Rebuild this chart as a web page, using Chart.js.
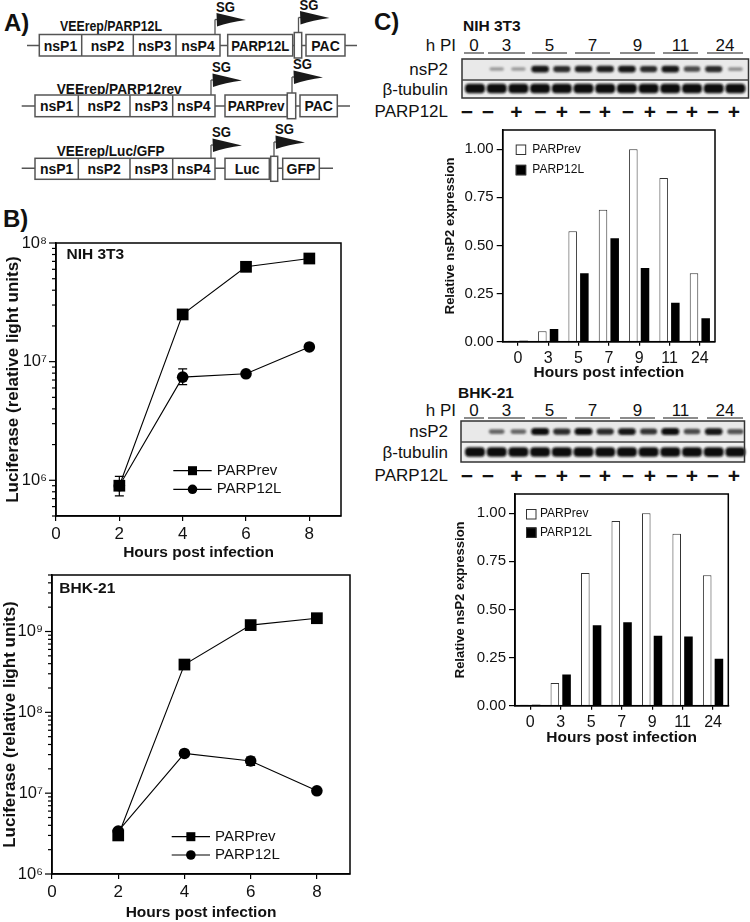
<!DOCTYPE html>
<html><head><meta charset="utf-8">
<script src="https://cdn.jsdelivr.net/npm/chart.js@4.4.1/dist/chart.umd.min.js"></script>
<style>
html,body{margin:0;padding:0;background:#fff;}
#root{position:relative;width:750px;height:922px;overflow:hidden;}
canvas{position:absolute;}
svg{position:absolute;left:0;top:0;}
</style></head>
<body><div id="root">
<svg id="art" width="750" height="922"></svg>
<canvas id="cB1" width="370" height="366" style="left:0;top:200px"></canvas>
<canvas id="cB2" width="370" height="362" style="left:0;top:560px"></canvas>
<canvas id="cC1" width="380" height="264" style="left:370px;top:118px"></canvas>
<canvas id="cC2" width="380" height="265" style="left:370px;top:482px"></canvas>
</div>
<script>
// ---------------- DATA ----------------
const hours = [2, 4, 6, 8];
const xTickValues = [0, 2, 4, 6, 8];
const nihPARPrev = [9.0e5, 2.5e7, 6.3e7, 7.4e7];
const nihPARP12L = [9.0e5, 7.4e6, 7.9e6, 1.33e7];
const nihPARPrevErrHi = [1.08e6, null, null, null];
const nihPARPrevErrLo = [7.4e5, null, null, null];
const nihPARP12LErrHi = [null, 8.7e6, null, null];
const nihPARP12LErrLo = [null, 6.4e6, null, null];
const bhkPARPrev = [3.0e6, 3.9e8, 1.2e9, 1.46e9];
const bhkPARP12L = [3.4e6, 3.1e7, 2.5e7, 1.07e7];
const bhkPARPrevErrHi = [null, null, null, null];
const bhkPARPrevErrLo = [null, null, null, null];
const bhkPARP12LErrHi = [null, null, 2.8e7, null];
const bhkPARP12LErrLo = [null, null, 2.2e7, null];

const hpiLabels = ['0', '3', '5', '7', '9', '11', '24'];
const barTickValues = [0, 0.25, 0.5, 0.75, 1.0];
const nihBarPARPrev = [0.005, 0.054, 0.574, 0.686, 1.00, 0.85, 0.356];
const nihBarPARP12L = [0.005, 0.066, 0.356, 0.537, 0.383, 0.203, 0.122];
const bhkBarPARPrev = [0.005, 0.118, 0.69, 0.96, 1.00, 0.894, 0.678];
const bhkBarPARP12L = [0.005, 0.162, 0.418, 0.434, 0.364, 0.359, 0.244];

const laneSigns = ['−', '−', '+', '−', '+', '−', '+', '−', '+', '−', '+', '−', '+'];
const nihNsp2Band = [0, 0.3, 0.3, 0.95, 0.85, 0.9, 0.9, 0.95, 0.85, 0.95, 0.7, 0.85, 0.35];
const bhkNsp2Band = [0, 0.55, 0.55, 1.0, 0.85, 1.0, 0.85, 0.95, 0.8, 1.0, 0.7, 0.95, 0.65];
const tubulinBand = [1, 1, 1, 1, 1, 1, 1, 1, 1, 1, 1, 1, 1];

// ---------------- ARTWORK (panel A, blots, labels) ----------------
const FONT = "'Liberation Sans', Arial, Helvetica, sans-serif";
const P = [];
function T(x, y, s, o = {}) {
  const tl = o.len ? ` textLength="${o.len}" lengthAdjust="spacingAndGlyphs"` : '';
  P.push(`<text x="${x}" y="${y}" font-family="${FONT}" font-size="${o.size || 14}" font-weight="${o.bold ? 'bold' : 'normal'}" text-anchor="${o.anchor || 'start'}" dominant-baseline="central" fill="${o.color || '#111'}"${tl}>${s}</text>`);
}
function L(x1, y1, x2, y2, c = '#555', w = 1.5) {
  P.push(`<line x1="${x1}" y1="${y1}" x2="${x2}" y2="${y2}" stroke="${c}" stroke-width="${w}"/>`);
}
function R(x, y, w, h, o = {}) {
  P.push(`<rect x="${x}" y="${y}" width="${w}" height="${h}" fill="${o.fill || '#fff'}" stroke="${o.stroke || '#555'}" stroke-width="${o.sw == null ? 1.5 : o.sw}"/>`);
}
P.push(`<defs><filter id="bl" x="-30%" y="-80%" width="160%" height="260%"><feGaussianBlur stdDeviation="0.9"/></filter></defs>`);

T(4, 22, 'A)', { size: 24, bold: true });
T(3, 218, 'B)', { size: 24, bold: true });
T(374, 21, 'C)', { size: 24, bold: true });

const rows = [
  { title: 'VEErep/PARP12L', tlen: 102, tx: 60, ty: 25, ly: 45.5, lx0: 27, lx1: 357, by0: 34.5, by1: 56, segs: [39.3, 81.7, 133.3, 176, 220],
    gene: ['PARP12L', 227.7, 292.7, 58], small: [294.3, 301.7], pac: ['PAC', 306, 345], sg: [[215, 6.5], [298.5, 4.5]] },
  { title: 'VEErep/PARP12rev', tlen: 125, tx: 56.7, ty: 88.3, ly: 106, lx0: 21.7, lx1: 350, by0: 95, by1: 116.7, segs: [35, 78.3, 130, 172.7, 215],
    gene: ['PARPrev', 225, 287.3, 57], small: [287.3, 295.7], pac: ['PAC', 300, 337.3], sg: [[211, 67], [292, 64]] },
  { title: 'VEErep/Luc/GFP', tlen: 108, tx: 56.7, ty: 150, ly: 168.3, lx0: 21.7, lx1: 333, by0: 158.3, by1: 179.3, segs: [35, 78.3, 130, 172.7, 215],
    gene: ['Luc', 225, 269.3, 0], small: [270.7, 277.7], pac: ['GFP', 282.7, 319.3], sg: [[211, 132], [274, 129]] }
];
const nsLabels = ['nsP1', 'nsP2', 'nsP3', 'nsP4'];
rows.forEach(r => {
  T(r.tx, r.ty, r.title, { size: 15, bold: true, len: r.tlen });
  L(r.lx0, r.ly, r.lx1, r.ly);
  const s = r.segs;
  R(s[0], r.by0, s[4] - s[0], r.by1 - r.by0);
  for (let k = 1; k < 4; k++) L(s[k], r.by0, s[k], r.by1);
  for (let k = 0; k < 4; k++) T((s[k] + s[k + 1]) / 2, (r.by0 + r.by1) / 2 + 0.5, nsLabels[k], { size: 14, bold: true, anchor: 'middle' });
  R(r.gene[1], r.by0, r.gene[2] - r.gene[1], r.by1 - r.by0);
  T((r.gene[1] + r.gene[2]) / 2, (r.by0 + r.by1) / 2 + 0.5, r.gene[0], { size: 14, bold: true, anchor: 'middle', len: r.gene[3] || 0 });
  R(r.small[0], r.by0 - 2, r.small[1] - r.small[0], r.by1 - r.by0 + 4);
  R(r.pac[1], r.by0, r.pac[2] - r.pac[1], r.by1 - r.by0);
  T((r.pac[1] + r.pac[2]) / 2, (r.by0 + r.by1) / 2 + 0.5, r.pac[0], { size: 14, bold: true, anchor: 'middle' });
  r.sg.forEach(([x, yt], k) => {
    const boxTop = k === 0 ? r.by0 : r.by0 - 2;
    const yT = yt + 6.5;
    L(x, boxTop, x, yT + 6.5, '#555', 1.3);
    L(x, yT + 6.5, x + 3, yT + 6.5, '#555', 1.3);
    P.push(`<path d="M${x + 1.5},${yT} L${x + 31},${yT + 7} Q${x + 14},${yT + 9} ${x + 2},${yT + 13.5} Z" fill="#1a1a1a"/>`);
    T(x + 10.5, yt, 'SG', { size: 14, bold: true, anchor: 'middle', len: 19 });
  });
});

const laneX = i => 475 + 21.7 * i;
const signX = [467, 488, 516.5, 540.5, 562, 585, 605, 628, 650, 672, 692, 713, 734];
const hpiSeg = [[464, 484], [488, 525], [532, 567], [575, 610], [620, 655], [663, 698], [707, 743]];
function blot(o) {
  T(o.cx, o.cy, o.cell, { size: 15.5, bold: true });
  T(456, o.hy, 'h PI', { size: 17, anchor: 'end' });
  hpiSeg.forEach((sg, k) => {
    T((sg[0] + sg[1]) / 2, o.hy, hpiLabels[k], { size: 17, anchor: 'middle' });
    L(sg[0], o.uy, sg[1], o.uy, '#666', 1.5);
  });
  P.push(`<rect x="${o.left}" y="${o.top}" width="${o.right - o.left}" height="${o.mid - o.top}" fill="#e9e9e9"/>`);
  P.push(`<rect x="${o.left}" y="${o.mid}" width="${o.right - o.left}" height="${o.bot - o.mid}" fill="#efefef"/>`);
  o.nsp2.forEach((a, i) => {
    if (!a) return;
    const w = 13 + 5 * a, h = 2 + 5 * a, g = Math.round(215 - 205 * a);
    P.push(`<rect x="${laneX(i) - w / 2}" y="${o.nY - h / 2}" width="${w}" height="${h}" rx="${h / 2}" fill="rgb(${g},${g},${g})" filter="url(#bl)"/>`);
  });
  o.tub.forEach((a, i) => {
    const w = 20, h = 9.5;
    P.push(`<rect x="${laneX(i) - w / 2}" y="${o.tY - h / 2}" width="${w}" height="${h}" rx="4" fill="#0d0d0d" filter="url(#bl)"/>`);
  });
  P.push(`<rect x="${o.left}" y="${o.top}" width="${o.right - o.left}" height="${o.bot - o.top}" fill="none" stroke="#333" stroke-width="1.5"/>`);
  L(o.left, o.mid, o.right, o.mid, '#444', 1.5);
  T(448, (o.top + o.mid) / 2, 'nsP2', { size: 17, anchor: 'end' });
  T(448, (o.mid + o.bot) / 2, 'β-tubulin', { size: 17, anchor: 'end' });
  T(448, o.sY, 'PARP12L', { size: 17, anchor: 'end' });
  laneSigns.forEach((s, i) => T(signX[i], o.sY, s, { size: 21, bold: true, anchor: 'middle' }));
}
blot({ cell: 'NIH 3T3', cx: 463, cy: 25, hy: 45, uy: 53, left: 462, right: 748.5, top: 59, mid: 80, bot: 98, nY: 69, tY: 88.5, sY: 111, nsp2: nihNsp2Band, tub: tubulinBand });
blot({ cell: 'BHK-21', cx: 458, cy: 392, hy: 410, uy: 418, left: 461, right: 744.5, top: 421, mid: 442, bot: 462, nY: 431.5, tY: 452, sY: 475, nsp2: bhkNsp2Band, tub: tubulinBand });

document.getElementById('art').innerHTML = P.join('');

// ---------------- CHARTS ----------------
Chart.defaults.font.family = FONT;
Chart.defaults.color = '#000';

const SUP = '⁰¹²³⁴⁵⁶⁷⁸⁹';
const isPow10 = v => { const e = Math.log10(v); return Math.abs(e - Math.round(e)) < 1e-6; };
function logTicks(scale) {
  const t = [];
  const lo = Math.floor(Math.log10(scale.min)), hi = Math.ceil(Math.log10(scale.max));
  for (let e = lo; e <= hi; e++) for (let m = 1; m < 10; m++) {
    const v = m * Math.pow(10, e);
    if (v >= scale.min * 0.999 && v <= scale.max * 1.001) t.push({ value: v });
  }
  scale.ticks = t;
}
const framePlugin = { id: 'frame', afterDraw(chart) { const { ctx, chartArea: a } = chart; ctx.save(); ctx.strokeStyle = '#000'; ctx.lineWidth = 1.5; ctx.strokeRect(a.left, a.top, a.right - a.left, a.bottom - a.top); ctx.restore(); } };
const logTickPlugin = { id: 'logTickMarks', afterDraw(chart) {
  const s = chart.scales.y; if (!s || s.type !== 'logarithmic') return;
  const { ctx, chartArea: a } = chart; ctx.save(); ctx.strokeStyle = '#000'; ctx.lineWidth = 1.2;
  s.ticks.forEach(t => { const y = s.getPixelForValue(t.value); const len = isPow10(t.value) ? 7 : 4; ctx.beginPath(); ctx.moveTo(a.left - len, y); ctx.lineTo(a.left, y); ctx.stroke(); });
  ctx.restore(); } };
const errPlugin = { id: 'errBars', beforeDatasetsDraw(chart) {
  const { ctx } = chart; const xs = chart.scales.x, ys = chart.scales.y;
  ctx.save(); ctx.strokeStyle = '#000'; ctx.lineWidth = 1.2;
  chart.data.datasets.forEach(ds => { if (!ds.errHi) return;
    ds.data.forEach((p, i) => { const hi = ds.errHi[i], lo = ds.errLo[i]; if (hi == null || lo == null) return;
      const x = xs.getPixelForValue(p.x), y1 = ys.getPixelForValue(hi), y2 = ys.getPixelForValue(lo);
      ctx.beginPath(); ctx.moveTo(x, y1); ctx.lineTo(x, y2); ctx.moveTo(x - 4.5, y1); ctx.lineTo(x + 4.5, y1); ctx.moveTo(x - 4.5, y2); ctx.lineTo(x + 4.5, y2); ctx.stroke(); }); });
  ctx.restore(); } };
const captionPlugin = { id: 'caption', afterDraw(chart, args, o) { if (!o.text) return; const { ctx, chartArea: a } = chart;
  ctx.save(); ctx.fillStyle = '#111'; ctx.font = `bold 15.5px ${FONT}`; ctx.textBaseline = 'middle'; ctx.fillText(o.text, a.left + o.dx, a.top + o.dy); ctx.restore(); } };
const lineLegend = { id: 'lineLegend', afterDraw(chart, args, o) { if (!o.x0) return; const { ctx, chartArea: a } = chart; ctx.save();
  chart.data.datasets.forEach((ds, k) => { const y = a.bottom + o.ys[k];
    ctx.strokeStyle = '#000'; ctx.lineWidth = 1.2; ctx.beginPath(); ctx.moveTo(a.left + o.x0, y); ctx.lineTo(a.left + o.x1, y); ctx.stroke();
    const cx = a.left + (o.x0 + o.x1) / 2; ctx.fillStyle = '#000';
    if (ds.pointStyle === 'rect') ctx.fillRect(cx - 4.5, y - 4.5, 9, 9); else { ctx.beginPath(); ctx.arc(cx, y, 4.8, 0, Math.PI * 2); ctx.fill(); }
    ctx.fillStyle = '#111'; ctx.font = `15px ${FONT}`; ctx.textBaseline = 'middle'; ctx.fillText(ds.label, a.left + o.tx, y); });
  ctx.restore(); } };
const barLegend = { id: 'barLegend', afterDraw(chart, args, o) { if (o.sx == null) return; const { ctx, chartArea: a } = chart; ctx.save();
  chart.data.datasets.forEach((ds, k) => { const y = a.top + o.ys[k];
    ctx.fillStyle = ds.backgroundColor; ctx.fillRect(a.left + o.sx, y - 5, 10.5, 10.5);
    ctx.strokeStyle = '#333'; ctx.lineWidth = 1; ctx.strokeRect(a.left + o.sx + 0.5, y - 4.5, 9.5, 9.5);
    ctx.fillStyle = '#111'; ctx.font = `12px ${FONT}`; ctx.textBaseline = 'middle'; ctx.fillText(ds.label, a.left + o.tx, y); });
  ctx.restore(); } };

function lineChart(id, cfg) {
  const mk = (label, style, vals, hi, lo, r) => ({ label, pointStyle: style, data: hours.map((h, i) => ({ x: h, y: vals[i] })),
    errHi: hi, errLo: lo, borderColor: '#000', backgroundColor: '#000', borderWidth: 1.1, pointRadius: r, pointBorderWidth: 0, pointBackgroundColor: '#000', tension: 0 });
  return new Chart(document.getElementById(id), {
    type: 'line',
    data: { datasets: [ mk('PARPrev', 'rect', cfg.rev, cfg.revHi, cfg.revLo, 8.3), mk('PARP12L', 'circle', cfg.l, cfg.lHi, cfg.lLo, 5.8) ] },
    plugins: [errPlugin, framePlugin, logTickPlugin, captionPlugin, lineLegend],
    options: {
      responsive: false, animation: false, devicePixelRatio: 1,
      layout: { padding: cfg.pad, autoPadding: false },
      plugins: { legend: { display: false }, tooltip: { enabled: false }, caption: cfg.caption, lineLegend: cfg.legend },
      scales: {
        x: { type: 'linear', min: 0, max: 9,
          afterBuildTicks: s => { s.ticks = xTickValues.map(v => ({ value: v })); },
          afterFit: s => { s.height = cfg.xh; },
          grid: { drawOnChartArea: false, tickLength: 5, color: '#000', lineWidth: 1.2 },
          border: { color: '#000', width: 1.5 },
          ticks: { font: { size: 17 }, color: '#111', padding: 3, maxRotation: 0, autoSkip: false },
          title: { display: true, text: 'Hours post infection', font: { size: 15.5, weight: 'bold' }, color: '#111', padding: { top: 0, bottom: cfg.xtp } } },
        y: { type: 'logarithmic', min: cfg.ymin, max: cfg.ymax,
          afterBuildTicks: logTicks,
          afterFit: s => { s.width = cfg.yw; },
          grid: { display: false, tickLength: 7 },
          border: { color: '#000', width: 1.5 },
          ticks: { font: { size: 16.5 }, color: '#111', padding: 2, autoSkip: false,
            callback: v => isPow10(v) ? '10' + String(Math.round(Math.log10(v))).split('').map(d => SUP[+d]).join('') : '' },
          title: { display: true, text: 'Luciferase (relative light units)', font: { size: 17, weight: 'bold' }, color: '#111', padding: { top: cfg.ytp, bottom: 0 } } }
      }
    }
  });
}
lineChart('cB1', { rev: nihPARPrev, l: nihPARP12L, revHi: nihPARPrevErrHi, revLo: nihPARPrevErrLo, lHi: nihPARP12LErrHi, lLo: nihPARP12LErrLo,
  pad: { left: 0, right: 29, top: 43, bottom: 0 }, xh: 50, yw: 56, xtp: 4, ytp: 3, ymin: 5e5, ymax: 1e8,
  caption: { text: 'NIH 3T3', dx: 10.5, dy: 12 }, legend: { x0: 117.3, x1: 155.7, tx: 160.7, ys: [-45.3, -26.7] } });
lineChart('cB2', { rev: bhkPARPrev, l: bhkPARP12L, revHi: bhkPARPrevErrHi, revLo: bhkPARPrevErrLo, lHi: bhkPARP12LErrHi, lLo: bhkPARP12LErrLo,
  pad: { left: 0, right: 20, top: 15, bottom: 0 }, xh: 48, yw: 52, xtp: 0, ytp: 0, ymin: 1e6, ymax: 5e9,
  caption: { text: 'BHK-21', dx: 7.3, dy: 14 }, legend: { x0: 119.7, x1: 158, tx: 163, ys: [-37.3, -19] } });

function barChart(id, cfg) {
  return new Chart(document.getElementById(id), {
    type: 'bar',
    data: { labels: hpiLabels, datasets: [
      { label: 'PARPrev', data: cfg.rev, backgroundColor: '#fff', borderColor: '#333', borderWidth: 1 },
      { label: 'PARP12L', data: cfg.l, backgroundColor: '#000', borderColor: '#000', borderWidth: 0 } ] },
    plugins: [framePlugin, barLegend],
    options: {
      responsive: false, animation: false, devicePixelRatio: 1,
      layout: { padding: cfg.pad, autoPadding: false },
      datasets: { bar: { categoryPercentage: 0.77, barPercentage: 0.73 } },
      plugins: { legend: { display: false }, tooltip: { enabled: false }, barLegend: cfg.legend },
      scales: {
        x: { type: 'category', afterFit: s => { s.height = cfg.xh; },
          grid: { offset: false, drawOnChartArea: false, tickLength: 4, color: '#000', lineWidth: 1.2 },
          border: { color: '#000', width: 1.5 },
          ticks: { font: { size: 16 }, color: '#111', padding: 3, maxRotation: 0, autoSkip: false },
          title: { display: true, text: 'Hours post infection', font: { size: 15.5, weight: 'bold' }, color: '#111', padding: { top: 0, bottom: 0 } } },
        y: { min: 0, max: 1.1,
          afterBuildTicks: s => { s.ticks = barTickValues.map(v => ({ value: v })); },
          afterFit: s => { s.width = cfg.yw; },
          grid: { drawOnChartArea: false, tickLength: 6, color: '#000', lineWidth: 1.2 },
          border: { color: '#000', width: 1.5 },
          ticks: { font: { size: 15 }, color: '#111', padding: 3, autoSkip: false, callback: v => Number(v).toFixed(2) },
          title: { display: true, text: 'Relative nsP2 expression', font: { size: 13, weight: 'bold' }, color: '#111', padding: { top: 3, bottom: 0 } } }
      }
    }
  });
}
barChart('cC1', { rev: nihBarPARPrev, l: nihBarPARP12L, pad: { left: 69.2, right: 35, top: 7, bottom: 0 }, xh: 40.3, yw: 63.5, legend: { sx: 13, tx: 29.6, ys: [19.5, 39.8] } });
barChart('cC2', { rev: bhkBarPARPrev, l: bhkBarPARP12L, pad: { left: 79.9, right: 21.7, top: 7.3, bottom: 0 }, xh: 41.3, yw: 65.1, legend: { sx: 11, tx: 25, ys: [20, 38.4] } });
</script>
</body></html>
